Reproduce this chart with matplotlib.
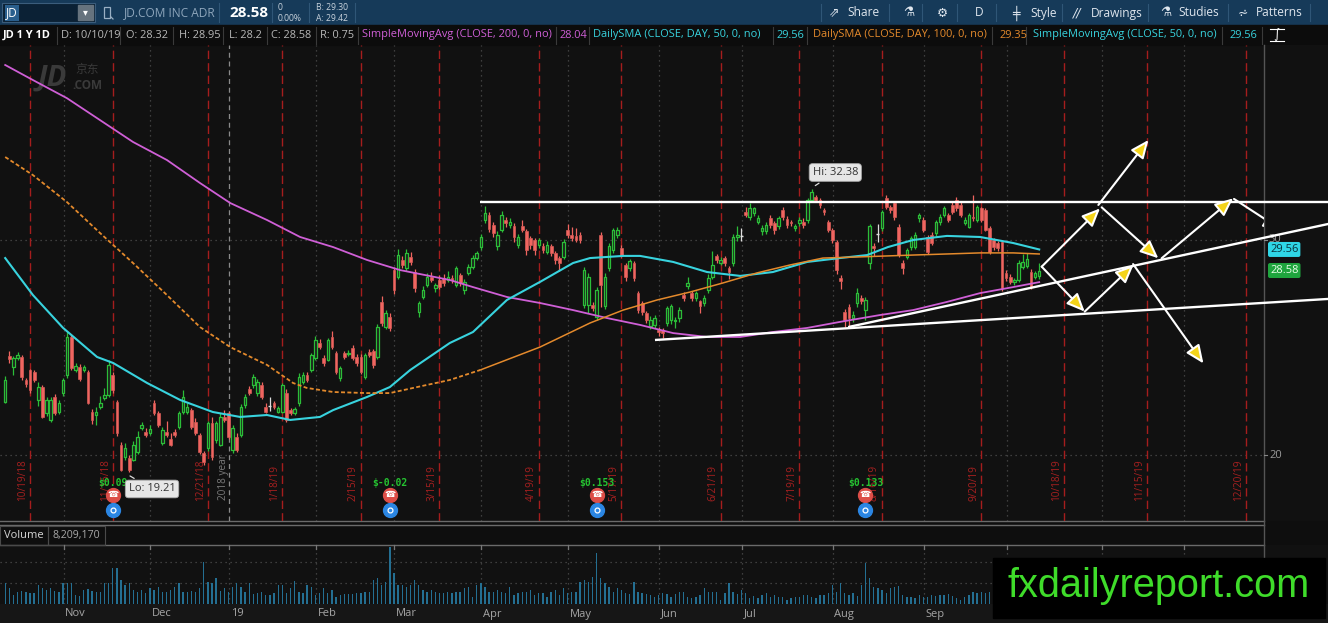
import numpy as np
import pandas as pd
import matplotlib
matplotlib.use('Agg')
import matplotlib.pyplot as plt
from matplotlib.patches import Rectangle, FancyArrowPatch
from matplotlib.collections import LineCollection, PatchCollection
from matplotlib.lines import Line2D
import matplotlib.transforms as mtrans

# ---------------- data ----------------
ticker = "JD"
company = "JD.COM INC ADR"
first_day = "2018-10-11"
holidays = ["2018-11-22", "2018-12-05", "2018-12-25", "2019-01-01", "2019-01-21",
            "2019-02-18", "2019-04-19", "2019-05-27", "2019-07-04", "2019-09-02",
            "2019-11-28", "2019-12-25", "2020-01-01", "2020-01-20"]

opens = [22.47, 24.60, 24.10, 24.50, 24.55, 23.50, 23.95, 23.86, 22.56, 23.15,
         21.95, 21.63, 22.70, 22.00, 22.88, 23.72, 25.49, 23.95, 24.10, 23.95,
         23.86, 22.00, 21.86, 22.23, 22.65, 22.79, 23.72, 22.47, 20.47, 19.90,
         19.86, 19.77, 20.14, 21.26, 21.07, 21.02, 22.42, 21.95, 20.56, 21.07,
         20.74, 21.07, 21.30, 22.00, 22.00, 22.09, 21.53, 20.93, 20.09, 20.33,
         21.49, 20.70, 20.47, 21.77, 21.95, 20.23, 20.84, 20.93, 22.33, 23.07,
         23.26, 22.87, 23.26, 22.25, 22.30, 22.40, 22.02, 22.02, 22.87, 22.10,
         21.94, 22.40, 23.41, 23.72, 23.95, 24.50, 25.20, 24.50, 24.42, 25.50,
         24.73, 23.57, 24.73, 24.70, 24.96, 24.57, 24.57, 23.65, 24.81, 24.85,
         24.57, 27.13, 25.97, 26.43, 28.60, 28.30, 29.07, 28.68, 29.22, 28.53,
         26.67, 27.36, 27.91, 28.30, 27.75, 28.14, 28.22, 28.14, 28.22, 27.91,
         28.37, 27.67, 28.45, 28.76, 29.15, 29.69, 30.93, 31.15, 30.70, 29.70,
         30.47, 30.94, 30.70, 30.63, 29.77, 30.63, 30.40, 30.08, 30.00, 29.77,
         29.70, 29.46, 29.70, 29.38, 29.15, 29.23, 30.47, 30.24, 30.19, 30.24,
         26.98, 26.98, 26.98, 26.44, 30.24, 26.91, 28.69, 29.54, 30.24, 29.62,
         28.84, 28.69, 28.92, 27.53, 27.06, 26.60, 25.98, 26.06, 25.82, 25.82,
         26.13, 26.29, 26.21, 26.37, 27.45, 27.84, 27.53, 27.29, 27.14, 27.06,
         27.68, 28.30, 29.26, 28.95, 29.15, 28.69, 28.92, 30.13, 30.20, 31.32,
         31.09, 31.25, 30.86, 30.40, 30.40, 31.01, 30.78, 30.63, 31.40, 30.97,
         30.86, 30.55, 30.78, 30.86, 30.94, 31.86, 32.02, 31.86, 31.40, 30.86,
         30.47, 29.93, 28.22, 26.67, 26.90, 26.36, 27.06, 27.30, 26.75, 28.92,
         29.70, 30.30, 30.55, 31.94, 31.55, 31.70, 30.62, 28.92, 29.23, 29.69,
         29.69, 31.00, 30.93, 30.16, 30.23, 30.31, 30.85, 31.16, 31.16, 31.63,
         31.86, 31.63, 30.78, 30.62, 31.08, 30.93, 31.47, 31.40, 30.54, 30.00,
         29.85, 29.92, 28.45, 28.30, 28.06, 28.14, 28.76, 28.80, 28.53, 28.30,
         28.32]
closes = [23.49, 24.45, 24.50, 24.65, 23.65, 23.30, 23.00, 23.49, 23.16, 21.75,
          22.56, 22.56, 21.95, 22.42, 23.49, 25.49, 24.05, 24.14, 23.53, 24.10,
          22.42, 21.63, 22.00, 22.42, 22.80, 24.19, 23.02, 21.02, 19.30, 20.33,
          19.30, 20.47, 20.84, 21.40, 20.93, 21.21, 21.95, 21.40, 21.16, 20.93,
          20.47, 20.93, 21.95, 22.70, 22.23, 21.30, 21.02, 20.14, 19.67, 21.49,
          19.90, 21.49, 21.77, 21.63, 20.84, 21.26, 20.23, 22.23, 22.70, 22.88,
          23.64, 23.41, 22.72, 22.02, 22.30, 22.25, 22.17, 23.26, 21.63, 21.94,
          22.13, 23.64, 23.72, 23.49, 24.65, 25.35, 25.04, 24.26, 25.35, 25.04,
          23.88, 24.03, 24.57, 24.75, 24.50, 24.26, 23.88, 24.65, 24.65, 24.19,
          25.97, 26.13, 26.59, 25.89, 27.67, 29.30, 28.84, 29.38, 28.99, 27.75,
          27.05, 27.67, 28.30, 28.14, 27.91, 27.83, 27.98, 28.30, 28.14, 28.68,
          27.98, 28.06, 28.76, 29.15, 29.38, 30.15, 31.24, 30.50, 30.32, 30.24,
          31.17, 30.78, 30.86, 30.16, 30.16, 30.47, 29.54, 29.77, 29.54, 30.00,
          29.54, 29.77, 29.38, 29.07, 28.92, 29.93, 30.24, 30.08, 30.00, 30.00,
          28.61, 28.30, 26.83, 27.68, 27.91, 28.30, 29.70, 30.47, 30.47, 29.31,
          28.30, 29.00, 28.22, 26.75, 26.67, 26.29, 26.29, 26.37, 25.74, 25.67,
          26.83, 26.91, 26.29, 26.75, 27.29, 27.99, 27.29, 27.53, 26.91, 27.30,
          28.22, 28.84, 29.07, 29.07, 28.92, 28.53, 30.16, 30.24, 30.20, 31.17,
          31.48, 31.48, 31.01, 30.55, 30.70, 30.70, 30.47, 31.01, 31.09, 30.70,
          30.78, 30.63, 30.94, 30.70, 31.86, 32.25, 31.86, 31.63, 31.32, 30.47,
          30.00, 28.61, 28.07, 26.29, 26.36, 26.52, 27.53, 27.14, 27.22, 30.63,
          29.62, 30.30, 31.32, 31.55, 31.40, 31.09, 29.30, 28.68, 29.53, 30.08,
          30.23, 31.16, 30.47, 29.46, 29.85, 30.85, 31.08, 31.47, 30.93, 31.32,
          31.47, 31.16, 30.93, 31.16, 31.00, 31.55, 30.93, 30.47, 29.46, 29.69,
          29.61, 27.75, 28.22, 28.06, 28.14, 28.92, 28.99, 29.10, 27.83, 28.45,
          28.58]
highs = [23.67, 24.85, 24.60, 24.80, 24.65, 23.60, 24.00, 23.95, 23.40, 23.25,
         22.70, 22.70, 22.85, 22.55, 23.60, 25.72, 25.60, 24.30, 24.25, 24.20,
         23.95, 22.15, 22.25, 22.75, 23.10, 24.40, 23.85, 22.55, 20.60, 20.55,
         20.00, 20.65, 21.10, 21.55, 21.25, 21.40, 22.55, 22.05, 21.30, 21.60,
         21.00, 21.20, 22.05, 23.00, 22.40, 22.20, 21.70, 21.00, 20.20, 21.60,
         21.75, 21.60, 21.95, 22.10, 22.05, 21.40, 21.00, 22.35, 22.85, 23.20,
         23.75, 23.55, 23.40, 22.40, 22.70, 22.50, 22.30, 23.35, 23.05, 22.20,
         22.25, 23.80, 23.85, 23.85, 24.75, 25.55, 25.40, 24.65, 25.45, 25.75,
         24.85, 24.15, 24.85, 24.90, 25.10, 24.70, 24.70, 24.75, 24.95, 24.95,
         26.10, 27.40, 26.75, 26.60, 28.75, 29.60, 29.25, 29.60, 29.45, 28.65,
         27.15, 27.85, 28.45, 28.50, 28.00, 28.35, 28.40, 28.55, 28.35, 28.80,
         28.45, 28.20, 28.90, 29.30, 29.50, 30.30, 31.60, 31.30, 30.85, 30.40,
         31.35, 31.05, 31.00, 30.80, 30.30, 30.95, 30.50, 30.20, 30.10, 30.10,
         29.85, 29.95, 29.80, 29.50, 29.25, 30.05, 30.75, 30.60, 30.55, 30.35,
         28.75, 28.45, 27.10, 27.80, 30.35, 28.45, 29.85, 30.55, 30.60, 29.75,
         28.95, 29.10, 29.00, 27.65, 27.15, 26.70, 26.45, 26.50, 25.95, 25.90,
         26.95, 27.00, 26.40, 26.90, 27.60, 28.30, 27.65, 27.65, 27.20, 27.45,
         28.40, 29.50, 29.35, 29.20, 29.25, 28.80, 30.30, 30.65, 30.55, 31.55,
         31.70, 31.55, 31.15, 30.70, 30.85, 31.15, 30.90, 31.10, 31.55, 31.10,
         30.95, 30.75, 31.05, 31.00, 31.95, 32.38, 32.10, 31.95, 31.50, 30.95,
         30.55, 30.00, 28.35, 26.80, 27.00, 26.70, 27.75, 27.45, 27.35, 30.75,
         29.85, 30.75, 31.40, 32.10, 31.65, 31.80, 30.75, 29.05, 29.65, 30.20,
         30.35, 31.25, 31.05, 30.25, 30.35, 30.95, 31.20, 31.60, 31.25, 31.75,
         32.00, 31.75, 31.05, 31.25, 32.10, 31.65, 31.55, 31.50, 30.65, 30.10,
         29.95, 30.00, 28.60, 28.40, 28.25, 29.05, 29.35, 29.40, 28.65, 28.55,
         28.95]
lows = [22.40, 24.30, 23.70, 24.40, 23.50, 23.15, 22.90, 23.40, 22.30, 21.70,
        21.80, 21.55, 21.85, 21.90, 22.75, 23.60, 23.95, 23.85, 23.45, 23.85,
        22.35, 21.45, 21.40, 22.15, 22.55, 22.70, 22.90, 20.90, 19.25, 19.75,
        19.21, 19.70, 20.05, 21.15, 20.85, 20.95, 21.85, 21.30, 20.45, 20.85,
        20.40, 20.85, 21.20, 21.90, 21.90, 21.20, 20.95, 20.05, 19.55, 20.20,
        19.75, 20.55, 20.40, 21.55, 20.75, 20.10, 20.15, 20.85, 22.20, 22.80,
        23.10, 22.75, 22.60, 21.95, 22.05, 22.15, 21.95, 21.95, 21.55, 21.85,
        21.85, 22.30, 23.30, 23.40, 23.85, 24.40, 24.95, 24.15, 24.35, 24.95,
        23.75, 23.45, 24.45, 24.60, 24.40, 24.15, 23.75, 23.55, 24.55, 24.05,
        24.45, 26.00, 25.85, 25.75, 27.50, 28.20, 28.70, 28.55, 28.85, 27.60,
        26.40, 27.25, 27.80, 28.05, 27.60, 27.70, 27.85, 28.05, 28.00, 27.80,
        27.85, 27.50, 28.35, 28.65, 29.05, 29.55, 30.80, 30.35, 30.15, 29.55,
        30.35, 30.60, 30.55, 29.90, 29.65, 30.35, 29.30, 29.60, 29.30, 29.65,
        29.40, 29.35, 29.25, 28.90, 28.55, 29.10, 30.10, 29.95, 29.90, 29.85,
        26.85, 26.60, 26.70, 26.30, 26.90, 26.80, 28.55, 29.40, 30.10, 29.20,
        28.10, 28.55, 28.10, 26.60, 26.50, 26.15, 25.85, 25.90, 25.55, 25.45,
        26.00, 26.10, 25.90, 26.20, 27.15, 27.70, 27.15, 27.15, 26.60, 26.95,
        27.55, 28.20, 28.95, 28.85, 28.80, 28.20, 28.80, 29.95, 29.95, 31.05,
        30.95, 31.10, 30.75, 30.25, 30.30, 30.55, 30.30, 30.50, 30.95, 30.55,
        30.65, 30.40, 30.65, 30.55, 30.80, 31.75, 31.75, 31.50, 31.15, 30.35,
        29.85, 28.40, 27.70, 25.95, 25.95, 26.20, 26.90, 27.00, 26.30, 28.65,
        29.25, 29.90, 30.40, 31.45, 31.25, 30.95, 29.20, 28.40, 29.10, 29.55,
        29.60, 30.85, 30.35, 29.35, 29.75, 30.20, 30.70, 31.05, 30.85, 31.20,
        31.35, 31.05, 30.70, 30.55, 30.90, 30.85, 30.85, 30.40, 29.35, 29.55,
        29.50, 27.65, 28.10, 27.95, 27.90, 28.05, 28.65, 28.70, 27.70, 28.20,
        28.20]
volume_m = [21, 16, 9, 12, 13, 12, 11, 11, 19, 16, 14, 16, 13, 12, 21, 21, 21, 9, 8, 14,
            15, 13, 12, 12, 21, 21, 36, 36, 24, 19, 21, 14, 12, 14, 11, 16, 14, 17, 12, 12,
            14, 17, 21, 12, 12, 13, 12, 16, 42, 22, 21, 26, 13, 16, 12, 17, 21, 17, 12, 21,
            10, 11, 12, 9, 9, 11, 19, 19, 11, 16, 23, 12, 11, 19, 17, 9, 11, 16, 11, 14,
            7, 9, 10, 10, 10, 11, 11, 12, 12, 24, 26, 19, 22, 57, 31, 19, 19, 17, 19, 24,
            19, 14, 12, 14, 12, 11, 11, 12, 11, 12, 12, 16, 17, 7, 19, 21, 17, 12, 12, 14,
            12, 11, 17, 9, 11, 12, 12, 14, 9, 11, 11, 7, 12, 14, 9, 16, 11, 12, 12, 22,
            24, 22, 27, 51, 26, 21, 17, 12, 16, 14, 11, 10, 22, 12, 11, 10, 9, 7, 9, 11,
            10, 7, 10, 12, 12, 7, 6, 7, 9, 16, 12, 12, 12, 4, 11, 21, 12, 10, 14, 11,
            6, 8, 6, 9, 11, 7, 9, 7, 7, 4, 6, 7, 7, 9, 9, 7, 6, 9, 9, 11,
            19, 12, 21, 11, 9, 11, 8, 19, 41, 26, 17, 16, 14, 11, 16, 17, 18, 9, 7, 7,
            6, 9, 7, 7, 9, 8, 9, 9, 10, 8, 6, 4, 7, 9, 12, 11, 12, 11, 12,
            10, 12, 22, 15, 14, 12, 11, 10, 13, 9, 8, 8.209170]
last_volume = "8,209,170"

# moving averages (bar index, value)
sma200_idx = [0, 6.7, 14.9, 22.9, 30.9, 39.1, 47.1, 54.4, 63.3, 71.3, 79.3, 87.5, 95.5, 107.5,
              113.1, 121.3, 129.3, 137.3, 145.5, 153.5, 161.5, 169.7, 177.7, 185.6, 193.9,
              201.8, 211.5, 219.5, 227.7, 235.7, 243.7, 250]
sma200 = [38.14, 37.44, 36.60, 35.58, 34.56, 33.72, 32.65, 31.72, 30.93, 30.14, 29.67, 29.07,
          28.60, 28.14, 27.81, 27.35, 27.07, 26.74, 26.37, 26.05, 25.67, 25.49, 25.49, 25.72,
          25.91, 26.19, 26.51, 26.74, 27.12, 27.53, 27.81, 28.04]
sma50_idx = [0, 6.7, 14.0, 22.2, 26.1, 34.3, 42.3, 50.2, 56.8, 63.3, 68.9, 76.1, 79.3, 87.5,
             93.0, 97.9, 107.5, 113.1, 121.3, 129.3, 137.3, 141.4, 149.4, 153.5, 161.5, 169.7,
             177.7, 185.6, 193.9, 201.8, 208.4, 213.4, 219.5, 227.7, 235.7, 243.7, 250]
sma50 = [29.16, 27.44, 25.91, 24.56, 24.28, 23.35, 22.56, 22.00, 21.77, 21.86, 21.63, 21.77,
         22.09, 22.70, 23.16, 23.95, 25.21, 25.72, 27.21, 28.05, 28.93, 29.16, 29.26, 29.26,
         28.98, 28.51, 28.33, 28.51, 28.98, 29.16, 29.30, 29.67, 30.00, 30.19, 30.14, 29.86,
         29.56]
sma100_idx = [0, 6.7, 14.9, 22.9, 30.9, 39.1, 47.1, 54.4, 63.3, 69.6, 72.9, 79.3, 87.5, 93.0,
              99.6, 107.5, 114.8, 129.3, 141.4, 149.4, 157.6, 165.6, 173.5, 181.8, 189.8,
              197.7, 206.0, 213.4, 219.5, 227.7, 235.7, 243.7, 250]
sma100 = [33.86, 33.02, 31.77, 30.33, 28.93, 27.44, 25.95, 25.02, 24.19, 23.35, 23.12, 22.93,
          22.88, 22.88, 23.16, 23.49, 23.95, 25.02, 26.14, 26.74, 27.21, 27.58, 28.00, 28.47,
          28.84, 29.16, 29.21, 29.26, 29.30, 29.35, 29.40, 29.40, 29.35]

expiry_dates = ["2018-10-19", "2018-11-16", "2018-12-21", "2019-01-18", "2019-02-15",
                "2019-03-15", "2019-04-19", "2019-05-17", "2019-06-21", "2019-07-19",
                "2019-08-16", "2019-09-20", "2019-10-18", "2019-11-15", "2019-12-20"]
earn_dates = ["2018-11-16", "2019-02-27", "2019-05-09", "2019-08-12"]
earn_labels = ["$0.09", "$-0.02", "$0.153", "$0.133"]
month_labels = ["Nov", "Dec", "19", "Feb", "Mar", "Apr", "May", "Jun", "Jul", "Aug", "Sep"]

# hand-drawn trend lines and projection arrows (bar index, price)
trend_lines = [((114.8, 31.78), (320.0, 31.78)),
               ((157.1, 25.35), (320.0, 27.26)),
               ((203.8, 25.95), (320.0, 30.75))]
proj_arrows = [((250.6, 28.76), (264.7, 31.47)),
               ((264.3, 31.63), (276.4, 34.65)),
               ((250.6, 28.76), (261.0, 26.67)),
               ((261.0, 26.67), (272.8, 28.84)),
               ((265.1, 31.52), (278.8, 29.15)),
               ((279.6, 29.15), (296.9, 31.94)),
               ((297.1, 31.91), (308.6, 30.47)),
               ((272.7, 28.88), (289.7, 24.26))]

# ---------------- setup ----------------
plt.rcParams['font.family'] = ['Open Sans', 'DejaVu Sans']
W, H = 1328, 623
fig = plt.figure(figsize=(W / 100, H / 100), dpi=100)
fig.patch.set_facecolor('#111111')

def fx(x): return x / W
def fy(y): return 1 - y / H
def frect(x0, y0, x1, y1, z=-1, **kw):
    fig.add_artist(Rectangle((fx(x0), fy(y1)), (x1 - x0) / W, (y1 - y0) / H,
                             transform=fig.transFigure, zorder=z, **kw))
def fline(x0, y0, x1, y1, z=-0.5, **kw):
    fig.add_artist(Line2D([fx(x0), fx(x1)], [fy(y0), fy(y1)], transform=fig.transFigure,
                          zorder=z, **kw))
def ftext(x, y, s, **kw):
    kw.setdefault('va', 'center')
    fig.text(fx(x), fy(y), s, **kw)

n = min(len(opens), len(closes), len(highs), len(lows))
cal = pd.bdate_range(first_day, "2020-02-28", freq='C', holidays=holidays)
def day_idx(d):
    return int(cal.searchsorted(pd.Timestamp(d), side='right')) - 1
def month_idx(d):
    return int(cal.searchsorted(pd.Timestamp(d), side='left'))

BG = '#1b1b1b'
UP = '#2bbd38'
DN = '#f06560'
MAG = '#cf5fd6'
CYAN = '#38d3de'
ORG = '#e48a2c'

# ---------------- chrome ----------------
frect(0, 0, W, 25, color='#163a59')
frect(0, 25, W, 45, color='#0c0c0c')
frect(1264, 45, W, 521, color='#111111')
frect(0, 521, W, 545, color='#0e0e0e')
frect(1264, 545, W, 604, color='#111111')
frect(0, 604, W, H, color='#161616')
fline(0, 521, 1264, 521, color='#6a6a6a', lw=1)
fline(0, 525, 1264, 525, color='#6a6a6a', lw=1)
fline(0, 545, 1264, 545, color='#6a6a6a', lw=1)
fline(1264, 45, 1264, 604, color='#555555', lw=1)

# toolbar row 1
frect(2, 3, 95, 22, z=0, facecolor='#0b2135', edgecolor='#3b5d7c', lw=0.8)
ftext(6, 13, ticker, color='white', fontsize=8.5,
      bbox=dict(boxstyle='square,pad=0.1', fc='#2a5f8d', ec='none'))
frect(78, 5, 93, 20, z=0, color='#66737e')
ftext(85.5, 12.5, '▾', color='white', fontsize=7, ha='center')
# small link icon (drawn as shapes)
frect(104, 7, 110, 18, z=0, facecolor='none', edgecolor='#9ab0c4', lw=0.9)
fline(111, 17, 113, 19, color='#9ab0c4', lw=0.9, z=0)
ftext(124, 13, company, color='#8ea6bc', fontsize=8.6)
fline(219, 3, 219, 22, color='#2f5677', lw=0.8, z=0)
ftext(229, 13, f"{closes[-1]:.2f}", color='white', fontsize=11, fontweight='bold')
fline(272, 3, 272, 22, color='#2f5677', lw=0.8, z=0)
ftext(278, 8, "0", color='#c8d2dc', fontsize=6.2)
ftext(278, 18.5, "0.00%", color='#c8d2dc', fontsize=6.2)
fline(309, 3, 309, 22, color='#2f5677', lw=0.8, z=0)
ftext(316, 8, "B: 29.30", color='#c8d2dc', fontsize=6.2)
ftext(316, 18.5, "A: 29.42", color='#c8d2dc', fontsize=6.2)
fline(355, 3, 355, 22, color='#2f5677', lw=0.8, z=0)
tool_items = [(829, '⇗', 'Share'), (903, '⚗', ''), (937, '⚙', ''), (975, '', 'D'),
              (1012, '╪', 'Style'), (1073, '//', 'Drawings'), (1160, '⚗', 'Studies'),
              (1238, '⩫', 'Patterns')]
for x0, icon, lab in tool_items:
    if icon:
        ftext(x0, 13, icon, color='#dfe6ee', fontsize=9, family=['DejaVu Sans'],
              fontstyle='italic' if icon == '//' else 'normal')
    if lab:
        ftext(x0 + (18 if icon else 0), 13, lab, color='#dfe6ee', fontsize=8.6)
for xs in [821, 889, 922, 957, 996, 1062, 1148, 1228, 1310]:
    fline(xs, 4, xs, 21, color='#2f5677', lw=0.8, z=0)

# header row 2
hdr = [(3, f"{ticker} 1 Y 1D", 'white', 'bold'),
       (61, "D: 10/10/19", '#b8b8b8', 'normal'),
       (126, f"O: {opens[-1]:g}", '#b8b8b8', 'normal'),
       (179, f"H: {highs[-1]:g}", '#b8b8b8', 'normal'),
       (229, f"L: {lows[-1]:g}", '#b8b8b8', 'normal'),
       (271, f"C: {closes[-1]:g}", '#b8b8b8', 'normal'),
       (320, f"R: {highs[-1] - lows[-1]:.2f}", '#b8b8b8', 'normal'),
       (362, "SimpleMovingAvg (CLOSE, 200, 0, no)", MAG, 'normal'),
       (560, f"{sma200[-1]:.2f}", MAG, 'normal'),
       (593, "DailySMA (CLOSE, DAY, 50, 0, no)", CYAN, 'normal'),
       (777, f"{sma50[-1]:.2f}", CYAN, 'normal'),
       (813, "DailySMA (CLOSE, DAY, 100, 0, no)", ORG, 'normal'),
       (999, f"{sma100[-1]:.2f}", ORG, 'normal'),
       (1033, "SimpleMovingAvg (CLOSE, 50, 0, no)", CYAN, 'normal'),
       (1229, f"{sma50[-1]:.2f}", CYAN, 'normal')]
for x0, s, c, wgt in hdr:
    ftext(x0, 35, s, color=c, fontsize=7.9, fontweight=wgt)
for xs in [57, 120, 173, 223, 267, 316, 358, 556, 589, 773, 807, 992, 1026, 1222, 1262]:
    fline(xs, 27, xs, 44, color='#3a3a3a', lw=0.8, z=0)
ftext(1277, 35, '∫', color='white', fontsize=9, ha='center', family=['DejaVu Sans'])
fline(1270, 29, 1284, 29, color='white', lw=0.8, z=0)
fline(1270, 41, 1284, 41, color='white', lw=0.8, z=0)

# ---------------- main price axes ----------------
ax = fig.add_axes([0, fy(521), 1264 / W, 476 / H])
ax.set_facecolor(BG)
ax.set_xlim(-5.2 / 4.136, (1264 - 5.2) / 4.136)
ax.set_ylim(20 - 66 / 21.5, 20 + 410 / 21.5)
ax.axis('off')

# watermark
ax.text(0.030, 0.930, "JD", transform=ax.transAxes, fontsize=21, color='#3a3a3a',
        fontweight='bold', fontstyle='italic', va='center', ha='left')
ax.text(0.060, 0.948, "京东", transform=ax.transAxes, fontsize=8.5, color='#3a3a3a',
        family=['Noto Sans CJK SC', 'DejaVu Sans'], va='center', ha='left')
ax.text(0.057, 0.915, ".COM", transform=ax.transAxes, fontsize=8.5, color='#3a3a3a',
        fontweight='bold', va='center', ha='left')

# grid
for p in (20, 30):
    ax.axhline(p, color='#4d4d4d', lw=0.9, ls=(0, (1, 3)), zorder=1)
month_starts = pd.date_range("2018-11-01", "2019-12-01", freq='MS')
mpos = [month_idx(d) - 0.9 for d in month_starts]
for d, m in zip(month_starts, mpos):
    if d.month == 1:
        ax.axvline(m, color='#8a8a8a', lw=0.9, ls=(0, (4, 3)), zorder=1)
        ax.text(m - 1.3, 17.9, "2018 year", rotation=90, color='#7a7a7a', fontsize=7.2,
                ha='center', va='bottom', zorder=2)
    else:
        ax.axvline(m, color='#4d4d4d', lw=0.9, ls=(0, (1, 3)), zorder=1)
for d in expiry_dates:
    xi = day_idx(d)
    ax.axvline(xi, color='#a51d1d', lw=1, ls=(0, (6, 3)), zorder=1)
    ts = pd.Timestamp(d)
    ax.text(xi - 1.85, 17.86, f"{ts.month}/{ts.day}/{ts.strftime('%y')}", rotation=90,
            color='#a82020', fontsize=7.2, ha='center', va='bottom', zorder=2)

# candles
wick_segs, bodies, doji = [], [], []
for i in range(n):
    o, c = opens[i], closes[i]
    hi = max(highs[i], o, c)
    lo = min(lows[i], o, c)
    top, bot = max(o, c), min(o, c)
    if c > o:
        col = UP
        bodies.append(Rectangle((i - 0.3, bot), 0.6, top - bot, facecolor=BG, edgecolor=UP, lw=0.9))
    elif c < o:
        col = DN
        bodies.append(Rectangle((i - 0.33, bot), 0.66, top - bot, facecolor=DN, edgecolor=DN, lw=0.4))
    else:
        col = '#dddddd'
        doji.append([(i - 0.35, o), (i + 0.35, o)])
    wick_segs.append(([(i, top), (i, hi)], col))
    wick_segs.append(([(i, lo), (i, bot)], col))
ax.add_collection(LineCollection([s for s, _ in wick_segs], colors=[c for _, c in wick_segs],
                                 linewidths=0.9, zorder=3))
ax.add_collection(PatchCollection(bodies, match_original=True, zorder=3.5))
ax.add_collection(LineCollection(doji, colors='#dddddd', linewidths=1, zorder=3.5))

# moving averages
ax.plot(sma200_idx, sma200, color=MAG, lw=1.3, zorder=4)
ax.plot(sma50_idx, sma50, color=CYAN, lw=1.5, zorder=4)
split = 17
ax.plot(sma100_idx[:split], sma100[:split], color=ORG, lw=1.3, ls=(0, (2.2, 1.3)), zorder=4)
ax.plot(sma100_idx[split - 1:], sma100[split - 1:], color=ORG, lw=1.1, zorder=4)

# earnings / dividend markers
for d, lab in zip(earn_dates, earn_labels):
    xi = day_idx(d)
    ax.text(xi, 18.70, lab, color='#25c431', fontsize=7, ha='center', va='center',
            family=['DejaVu Sans Mono'], fontweight='bold', zorder=6)
    ax.plot(xi, 18.14, 'o', ms=10, color='#dd4e48', zorder=6)
    ax.text(xi, 18.14, '☎', color='white', fontsize=6.5, ha='center', va='center',
            family=['DejaVu Sans'], zorder=7)
    ax.plot(xi, 17.42, 'o', ms=10, color='#2b86e3', zorder=6)
    ax.plot(xi, 17.46, 'o', ms=3.5, mfc='none', mec='white', mew=0.9, zorder=7)

# Hi / Lo callouts
ilo = int(np.argmin(lows[:n]))
ihi = int(np.argmax(highs[:n]))
ax.annotate(f"Lo: {lows[ilo]:.2f}", xy=(ilo - 0.4, lows[ilo] - 0.12),
            xytext=(ilo + 5.5, lows[ilo] - 0.79), ha='center', va='center', fontsize=8,
            color='#333333', zorder=8,
            bbox=dict(boxstyle='round,pad=0.3', fc='#e6e6e6', ec='#aaaaaa', lw=0.6),
            arrowprops=dict(arrowstyle='-', color='#dddddd', lw=0.9))
ax.annotate(f"Hi: {highs[ihi]:.2f}", xy=(ihi + 0.3, highs[ihi] + 0.08),
            xytext=(ihi + 5.7, highs[ihi] + 0.76), ha='center', va='center', fontsize=8,
            color='#333333', zorder=8,
            bbox=dict(boxstyle='round,pad=0.3', fc='#e6e6e6', ec='#aaaaaa', lw=0.6),
            arrowprops=dict(arrowstyle='-', color='#dddddd', lw=0.9))

# trend lines
for (x0, y0), (x1, y1) in trend_lines:
    ax.plot([x0, x1], [y0, y1], color='white', lw=1.7, zorder=5, clip_on=False,
            solid_capstyle='butt')
for (x0, y0), (x1, y1) in proj_arrows:
    ax.add_patch(FancyArrowPatch((x0, y0), (x1, y1),
                                 arrowstyle='-|>,head_length=0.55,head_width=0.24',
                                 mutation_scale=20, facecolor='#f4d41a', edgecolor='white',
                                 lw=1.5, shrinkA=0, shrinkB=0, zorder=6))

# right price scale
bt = mtrans.blended_transform_factory(fig.transFigure, ax.transData)
for p in (20, 30):
    ax.text(fx(1269), p, f"{p}", transform=bt, color='#9a9a9a', fontsize=8, ha='left',
            va='center', clip_on=False)
    ax.plot([fx(1264), fx(1267)], [p, p], transform=bt, color='#888888', lw=0.8, clip_on=False)
ax.text(fx(1270), sma50[-1], f"{sma50[-1]:.2f}", transform=bt, color='#08323c', fontsize=8,
        ha='left', va='center', clip_on=False, zorder=9,
        bbox=dict(boxstyle='round,pad=0.18', fc='#2fd6e6', ec='none'))
ax.text(fx(1270), closes[-1], f"{closes[-1]:.2f}", transform=bt, color='#e8ffe8', fontsize=8,
        ha='left', va='center', clip_on=False, zorder=9,
        bbox=dict(boxstyle='round,pad=0.18', fc='#1fa53e', ec='none'))

# ---------------- volume axes ----------------
vax = fig.add_axes([0, fy(604), 1264 / W, 59 / H])
vax.set_facecolor(BG)
vax.set_xlim(ax.get_xlim())
vax.set_ylim(0, 59)
vax.axis('off')
nv = min(n, len(volume_m))
vax.bar(np.arange(nv), volume_m[:nv], width=0.32, color='#246f92', zorder=3)
for p in (21, 42):
    vax.axhline(p, color='#4d4d4d', lw=0.9, ls=(0, (1, 3)), zorder=1)
vt = mtrans.blended_transform_factory(vax.transData, fig.transFigure)
for m, lab in zip(mpos, month_labels + [''] * 10):
    vax.axvline(m, color='#4d4d4d', lw=0.9, ls=(0, (1, 3)), zorder=1)
    vax.plot([m, m], [fy(545), fy(549)], transform=vt, color='#777777', lw=0.9, clip_on=False)
    if lab:
        vax.text(m + 0.4, fy(614), lab, transform=vt, color='#a5a5a5', fontsize=8,
                 ha='left', va='center', clip_on=False)

frect(0, 526, 48, 545, z=0, facecolor='none', edgecolor='#4a4a4a', lw=0.8)
frect(48, 526, 105, 545, z=0, facecolor='none', edgecolor='#4a4a4a', lw=0.8)
ftext(4, 535.5, "Volume", color='#d6d6d6', fontsize=8)
ftext(53, 535.5, last_volume, color='#a8a8a8', fontsize=7.6)

# watermark box
frect(993, 558, 1325, 618, z=10, color='black')
fig.text(fx(1007), fy(597), "fxdailyreport.com", color='#3fdc2a', fontsize=28.6,
         family=['Liberation Sans', 'DejaVu Sans'], ha='left', va='baseline', zorder=11)

fig.savefig('out.png', dpi=100, facecolor=fig.get_facecolor())
